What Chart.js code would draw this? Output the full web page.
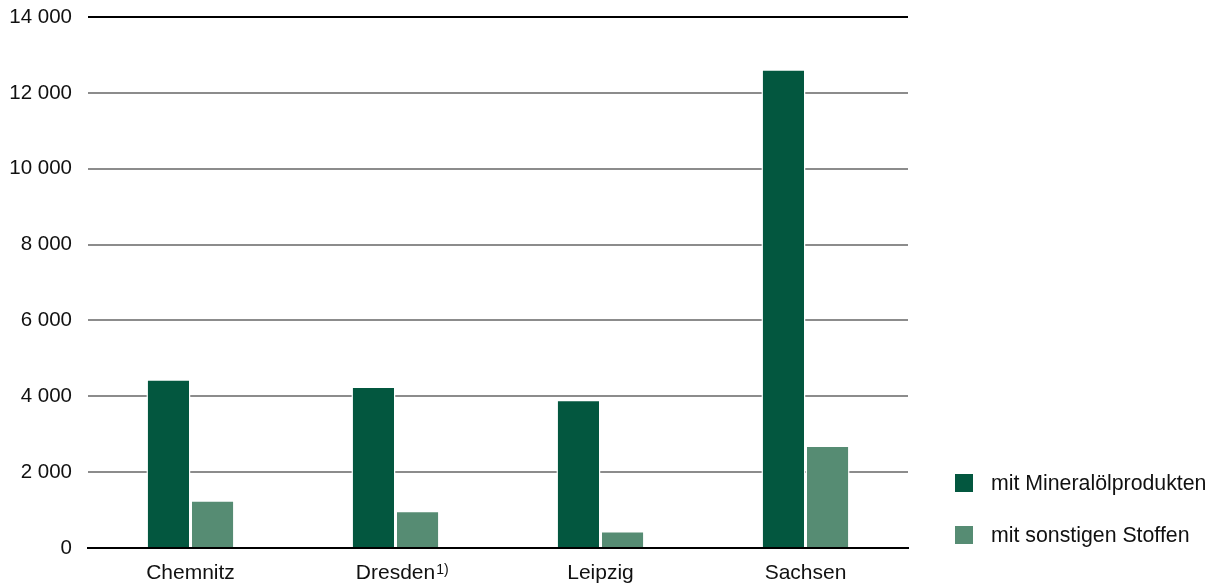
<!DOCTYPE html>
<html lang="de">
<head>
<meta charset="utf-8">
<title>Unfälle mit wassergefährdenden Stoffen</title>
<script src="https://cdn.jsdelivr.net/npm/chart.js@4.4.1/dist/chart.umd.min.js"></script>
<style>
  html, body { margin: 0; padding: 0; background: #fff; }
  canvas { display: block; }
</style>
</head>
<body>
<canvas id="cvsUnfaelle" width="1217" height="584"></canvas>
<script>
// Daten
const regionen = ['Chemnitz', 'Dresden', 'Leipzig', 'Sachsen'];
const fussnoten = ['', '1)', '', ''];
const mineraloel = [4450, 4260, 3910, 12620];
const sonstige = [1260, 980, 450, 2700];
const serienNamen = ['mit Mineralölprodukten', 'mit sonstigen Stoffen'];
const yTicks = [0, 2000, 4000, 6000, 8000, 10000, 12000, 14000];

const FONT = "'Liberation Sans', Arial, sans-serif";
const dunkelgruen = '#03573f';
const hellgruen = '#568c73';

// Legende rechts unten, selbst gezeichnet
const legendeRechts = {
  id: 'legendeRechts',
  afterDraw(chart) {
    const ctx = chart.ctx;
    ctx.save();
    ctx.font = '21.3px ' + FONT;
    ctx.textBaseline = 'middle';
    chart.data.datasets.forEach((ds, i) => {
      const y = 474 + i * 52;
      ctx.fillStyle = ds.backgroundColor;
      ctx.fillRect(955, y, 18, 18);
      ctx.fillStyle = '#111';
      ctx.fillText(ds.label, 991, y + 10);
    });
    ctx.restore();
  }
};

// hochgestellte Fußnoten hinter den Kategorienamen
const fussnotenPlugin = {
  id: 'fussnoten',
  afterDraw(chart) {
    const ctx = chart.ctx;
    const x = chart.scales.x;
    ctx.save();
    fussnoten.forEach((f, i) => {
      if (!f) return;
      ctx.font = '21px ' + FONT;
      const w = ctx.measureText(regionen[i]).width;
      const cx = x.getPixelForValue(i);
      ctx.font = '14px ' + FONT;
      ctx.fillStyle = '#111';
      ctx.textBaseline = 'alphabetic';
      ctx.fillText(f, cx + w / 2 + 1, x.top + 26);
    });
    ctx.restore();
  }
};

const cvs = document.getElementById('cvsUnfaelle');
new Chart(cvs, {
  type: 'bar',
  data: {
    labels: regionen,
    datasets: [{
      label: serienNamen[0],
      data: mineraloel,
      backgroundColor: dunkelgruen,
      borderColor: '#fff',
      borderWidth: 1.5,
      borderSkipped: 'bottom'
    }, {
      label: serienNamen[1],
      data: sonstige,
      backgroundColor: hellgruen,
      borderColor: '#fff',
      borderWidth: 1.5,
      borderSkipped: 'bottom'
    }]
  },
  options: {
    responsive: false,
    animation: false,
    devicePixelRatio: 1,
    layout: { padding: { left: 10, right: 309, top: 17, bottom: 0 } },
    categoryPercentage: 0.43,
    barPercentage: 1,
    plugins: {
      legend: { display: false },
      tooltip: { enabled: false }
    },
    scales: {
      x: {
        grid: { display: false },
        border: { display: true, color: '#000', width: 2, z: 1 },
        afterFit(axis) {
          axis.height = 36;
          axis.paddingLeft = 0;
          axis.paddingRight = 0;
        },
        ticks: {
          color: '#111',
          padding: 5,
          maxRotation: 0,
          font: { family: FONT, size: 21 }
        }
      },
      y: {
        min: 0,
        max: 14000,
        afterBuildTicks(axis) {
          axis.ticks = yTicks.map(v => ({ value: v }));
        },
        afterFit(axis) {
          axis.width = 78;
          axis.paddingTop = 0;
          axis.paddingBottom = 0;
        },
        border: { display: false },
        grid: {
          drawTicks: false,
          lineWidth: 2,
          color: c => (c.tick && (c.tick.value === 14000 || c.tick.value === 0)) ? '#000' : '#8c8c8c'
        },
        ticks: {
          color: '#111',
          padding: 16,
          font: { family: FONT, size: 20.5 },
          callback: v => v.toLocaleString('de-DE').replace(/\./g, ' ')
        }
      }
    }
  },
  plugins: [legendeRechts, fussnotenPlugin]
});
</script>
</body>
</html>
